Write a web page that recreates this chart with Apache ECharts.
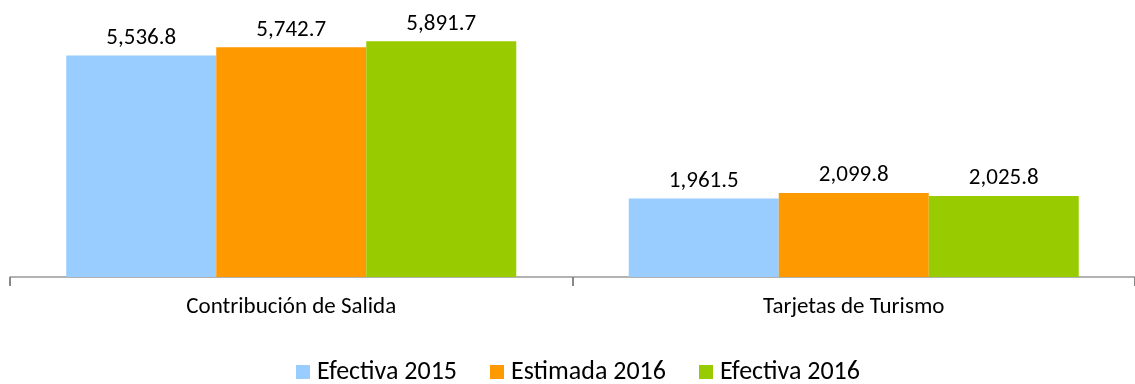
<!DOCTYPE html>
<html>
<head>
<meta charset="utf-8">
<script src="https://cdn.jsdelivr.net/npm/echarts@6/dist/echarts.min.js"></script>
<style>
html,body{margin:0;padding:0;background:#fff;}
#chart{width:1135px;height:384px;}
</style>
</head>
<body>
<div id="chart"></div>
<script>
// Recaudación por concepto (miles)
var categories = ['Contribución de Salida', 'Tarjetas de Turismo'];
var seriesNames = ['Efectiva 2015', 'Estimada 2016', 'Efectiva 2016'];
var efectiva2015 = [5536.8, 1961.5];
var estimada2016 = [5742.7, 2099.8];
var efectiva2016 = [5891.7, 2025.8];
var colors = ['#99CCFF', '#FF9900', '#99CC00'];

var font = 'Carlito, "Open Sans", "Noto Sans", sans-serif';

function fmt(v) {
  return v.toLocaleString('en-US', {minimumFractionDigits: 1, maximumFractionDigits: 1});
}

function makeSeries(name, data, color) {
  return {
    name: name,
    type: 'bar',
    data: data,
    barGap: '0%',
    barCategoryGap: '20%',
    itemStyle: {color: color},
    label: {
      show: true,
      position: 'top',
      distance: 6,
      color: '#000',
      fontFamily: font,
      fontSize: 23,
      formatter: function (p) { return fmt(p.value); }
    }
  };
}

var chart = echarts.init(document.getElementById('chart'), null, {renderer: 'canvas'});
chart.setOption({
  animation: false,
  color: colors,
  grid: {left: 10, right: -4, top: 37, bottom: 107, containLabel: false},
  legend: {
    top: 354,
    left: 291,
    itemWidth: 14,
    itemHeight: 14,
    itemGap: 33,
    icon: 'rect',
    textStyle: {fontFamily: font, fontSize: 26, color: '#000', padding: [0, 0, 0, 2]},
    data: seriesNames
  },
  xAxis: {
    type: 'category',
    data: categories,
    axisLine: {lineStyle: {color: '#999', width: 1.5}},
    axisTick: {show: true, length: 9, lineStyle: {color: '#888', width: 2}},
    axisLabel: {color: '#000', fontFamily: font, fontSize: 23, margin: 19}
  },
  yAxis: {
    type: 'value',
    min: 0,
    max: 6000,
    show: false,
    splitLine: {show: false}
  },
  series: [
    makeSeries(seriesNames[0], efectiva2015, colors[0]),
    makeSeries(seriesNames[1], estimada2016, colors[1]),
    makeSeries(seriesNames[2], efectiva2016, colors[2])
  ]
});
</script>
</body>
</html>
